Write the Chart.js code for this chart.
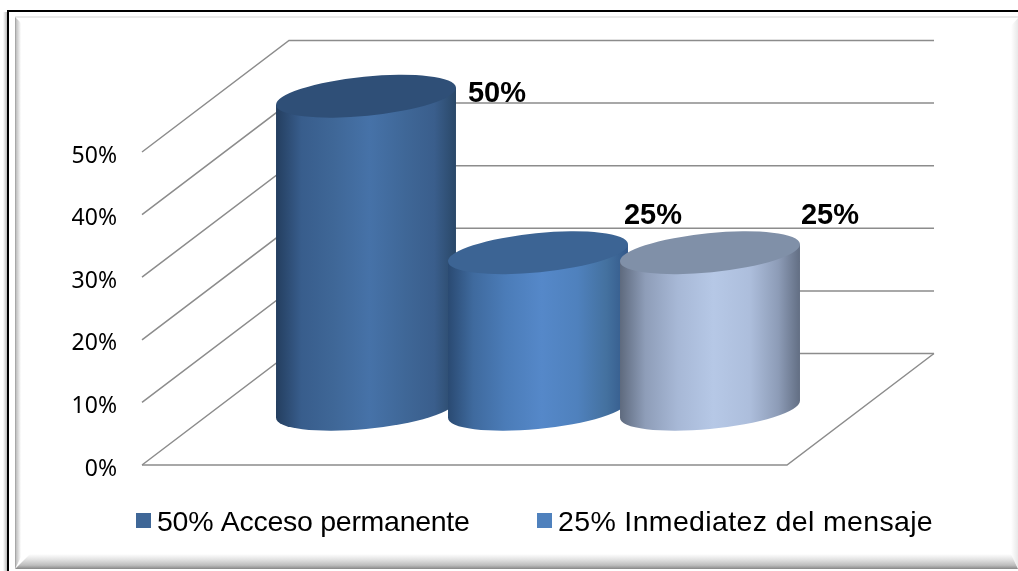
<!DOCTYPE html>
<html>
<head>
<meta charset="utf-8">
<title>Acceso permanente</title>
<script src="https://cdn.jsdelivr.net/npm/chart.js@4"></script>
<style>
    body { margin: 0; background: #fff; width: 1018px; height: 571px; overflow: hidden; position: relative; }
    canvas { position: absolute; left: 0; top: 0; }
    .f { position: absolute; }
    #shadow { left: 3px; top: 12px; width: 4px; height: 559px; background: linear-gradient(to right, #fff, #bbb); }
    #negroIzq { left: 7px; top: 10px; width: 2px; height: 561px; background: #000; }
    #negroSup { left: 7px; top: 10px; width: 1011px; height: 2px; background: #000; }
    #bevelSup { left: 15px; top: 16px; width: 1003px; height: 2px; background: #e9e9e9; }
    #bevelIzq { left: 15px; top: 17px; width: 6px; height: 552px; background: linear-gradient(to right, #999, #c4c4c4 25%, #fff); clip-path: polygon(0 0, 100% 6px, 100% 540px, 0 100%); }
    #bevelDer { left: 1011px; top: 18px; width: 7px; height: 550px; background: linear-gradient(to right, #fff, #e8e8e8); clip-path: polygon(0 8px, 100% 0, 100% 100%, 0 537px); }
    #bevelInf { left: 15px; top: 554px; width: 1003px; height: 15px; background: linear-gradient(to bottom, #fff, #e4e4e4 35%, #bdbdbd 75%, #8e8e8e 97%, #e8e8e8); clip-path: polygon(15px 0, 996px 0, 100% 100%, 0 100%); }
</style>
</head>
<body>
<div class="f" id="shadow"></div>
<div class="f" id="negroIzq"></div>
<div class="f" id="negroSup"></div>
<div class="f" id="bevelSup"></div>
<div class="f" id="bevelIzq"></div>
<div class="f" id="bevelDer"></div>
<div class="f" id="bevelInf"></div>
<canvas id="grafico" width="1018" height="571"></canvas>
<script>
// Datos
const categorias = [''];
const serieNombres = ['50% Acceso permanente', '25% Inmediatez del mensaje', ''];
const serieValores = [50, 25, 25];
const etiquetas = ['50%', '25%', '25%'];

// Estilos de cada cilindro: colores de leyenda, tapa y degradado del cuerpo
const colorLeyenda = ['#3f6797', '#4f81bd', '#b4c6e3'];
const colorTapa = ['#2f4f77', '#3c6494', '#8090a8'];
const colorCuerpo = [
    ['#243e5f', '#385d8c', '#3f6797', '#4672a8', '#3f6797', '#3a5e8c', '#2a4868'],
    ['#2a4a72', '#3f6a9e', '#4b7cb8', '#5588c9', '#4f81bd', '#44719f', '#33588a'],
    ['#5e6a7e', '#8e9db8', '#a7b8d6', '#b6c8e6', '#adbedc', '#8d9cb7', '#626e83']
];
const stopsCuerpo = [0, 0.14, 0.32, 0.52, 0.72, 0.88, 1];

// Perspectiva del grafico 3D
const fondoX = 147, fondoY = 111.5;
const radioA = 90.4, radioB = 19.6, giro = -5.66 * Math.PI / 180;
const leyendaX = [136, 537];
const leyendaEspacio = ['-0.28px', '0.35px'];
const etiquetaPos = [{ dx: 131, y: 102 }, { dx: 115, y: 224 }, { dx: 120, y: 224 }];

const paredes = {
    id: 'paredes',
    beforeDatasetsDraw(chart) {
        const ctx = chart.ctx, y = chart.scales.y, area = chart.chartArea;
        ctx.save();
        ctx.strokeStyle = '#8c8c8c';
        ctx.lineWidth = 1.5;
        y.ticks.forEach(t => {
            const py = y.getPixelForValue(t.value);
            ctx.beginPath();
            ctx.moveTo(area.left, py);
            ctx.lineTo(area.left + fondoX, py - fondoY);
            ctx.lineTo(area.right + fondoX, py - fondoY);
            ctx.stroke();
        });
        // borde frontal y lateral del piso
        const base = y.getPixelForValue(0);
        ctx.beginPath();
        ctx.moveTo(area.left, base);
        ctx.lineTo(area.right, base);
        ctx.lineTo(area.right + fondoX, base - fondoY);
        ctx.stroke();
        ctx.restore();
    }
};

function dibujarCilindro(ctx, barra, i) {
    const cx = barra.x + fondoX / 2;
    const topY = barra.y - fondoY / 2;
    const baseY = barra.base - fondoY / 2;
    // angulo del punto mas a la derecha de la elipse girada
    const t0 = Math.atan2(-radioB * Math.sin(giro), radioA * Math.cos(giro));
    const ex = radioA * Math.cos(t0) * Math.cos(giro) - radioB * Math.sin(t0) * Math.sin(giro);
    const ey = radioA * Math.cos(t0) * Math.sin(giro) + radioB * Math.sin(t0) * Math.cos(giro);

    const grad = ctx.createLinearGradient(cx - ex, 0, cx + ex, 0);
    colorCuerpo[i].forEach((c, k) => grad.addColorStop(stopsCuerpo[k], c));

    ctx.beginPath();
    ctx.moveTo(cx - ex, topY - ey);
    ctx.lineTo(cx - ex, baseY - ey);
    ctx.ellipse(cx, baseY, radioA, radioB, giro, t0 + Math.PI, t0, true);
    ctx.lineTo(cx + ex, topY + ey);
    ctx.closePath();
    ctx.fillStyle = grad;
    ctx.fill();

    ctx.beginPath();
    ctx.ellipse(cx, topY, radioA, radioB, giro, 0, Math.PI * 2);
    ctx.fillStyle = colorTapa[i];
    ctx.fill();
}

const cilindros = {
    id: 'cilindros',
    // las barras normales no se pintan, solo los cilindros
    beforeDatasetDraw() { return false; },
    afterDatasetsDraw(chart) {
        const ctx = chart.ctx;
        ctx.save();
        chart.data.datasets.forEach((ds, i) => {
            dibujarCilindro(ctx, chart.getDatasetMeta(i).data[0], i);
        });
        // etiquetas de valor
        ctx.fillStyle = '#000';
        ctx.font = 'bold 29px "Liberation Sans"';
        ctx.textAlign = 'center';
        ctx.textBaseline = 'alphabetic';
        chart.data.datasets.forEach((ds, i) => {
            const barra = chart.getDatasetMeta(i).data[0];
            ctx.fillText(etiquetas[i], barra.x + fondoX / 2 + etiquetaPos[i].dx, etiquetaPos[i].y);
        });
        ctx.restore();
    }
};

const leyenda = {
    id: 'leyenda',
    afterDraw(chart) {
        const ctx = chart.ctx;
        ctx.save();
        ctx.font = '28.5px "Liberation Sans"';
        ctx.textBaseline = 'alphabetic';
        chart.data.datasets.forEach((ds, i) => {
            if (!ds.label) return;
            ctx.fillStyle = colorLeyenda[i];
            ctx.fillRect(leyendaX[i], 513, 15, 15);
            ctx.fillStyle = '#000';
            ctx.letterSpacing = leyendaEspacio[i];
            ctx.fillText(ds.label, leyendaX[i] + 21, 531);
        });
        ctx.restore();
    }
};

new Chart(document.getElementById('grafico').getContext('2d'), {
    type: 'bar',
    data: {
        labels: categorias,
        datasets: serieValores.map((v, i) => ({
            label: serieNombres[i],
            data: [v],
            backgroundColor: colorLeyenda[i],
            barPercentage: 1,
            categoryPercentage: 0.8
        }))
    },
    options: {
        responsive: false,
        animation: false,
        layout: { padding: { left: 0, right: 231, top: 152, bottom: 106 } },
        plugins: { legend: { display: false }, tooltip: { enabled: false } },
        scales: {
            x: { display: false },
            y: {
                min: 0,
                max: 50,
                afterFit(scale) { scale.width = 142; },
                grid: { display: false, drawTicks: false },
                border: { display: false },
                ticks: {
                    stepSize: 10,
                    padding: 25,
                    labelOffset: 4,
                    color: '#000',
                    font: { family: 'Noto Sans', size: 23 },
                    callback: v => v + '%'
                }
            }
        }
    },
    plugins: [paredes, cilindros, leyenda]
});
</script>
</body>
</html>
